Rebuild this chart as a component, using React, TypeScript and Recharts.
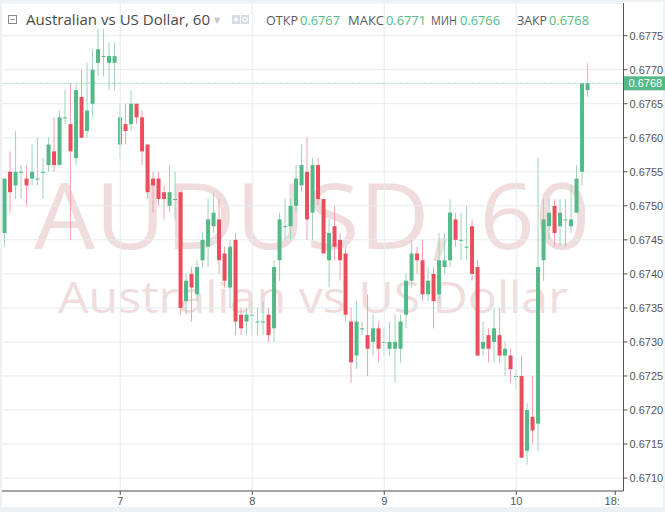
import React from 'react';
import { ComposedChart, Bar, XAxis, YAxis, CartesianGrid, ReferenceLine } from 'recharts';

// Hourly candles, first candle = day 6, 03:00 (hour index counted from day 6 00:00)
const firstHour = 3;
const lastSlot = 115;

const opens = [
  0.6746, 0.6755, 0.6753, 0.6755, 0.6754, 0.6754, 0.6754, 0.6755, 0.6756, 0.6758, 0.6756, 0.6763, 0.6762, 0.6757, 0.6766, 0.6761, 0.6765, 0.6771, 0.6772, 0.6771, 0.6771,
  0.6759, 0.6762, 0.6762, 0.6765, 0.6763, 0.6759, 0.6754, 0.6754, 0.6752, 0.675, 0.6751, 0.6752, 0.6736, 0.674, 0.6737, 0.6742, 0.6744, 0.6747, 0.6748, 0.6743, 0.6738, 0.6745, 0.6734, 0.6733,
  0.6734, 0.6733, 0.6733, 0.6734, 0.6732, 0.6742, 0.6747, 0.6747, 0.675, 0.6753, 0.6755, 0.6749, 0.6756, 0.6751, 0.6742, 0.6747, 0.6745, 0.6743, 0.6733, 0.6728, 0.6732, 0.6731, 0.673, 0.6732,
  0.673, 0.6729, 0.6729, 0.6729, 0.6734, 0.6739, 0.6743, 0.6742, 0.6737, 0.674, 0.6737, 0.6741, 0.6742, 0.6748, 0.6745, 0.6744, 0.6747, 0.6741, 0.6729, 0.6731, 0.673, 0.6731, 0.6728, 0.6728,
  0.6725, 0.6725, 0.6714, 0.6719, 0.6718, 0.6742, 0.6747, 0.675, 0.6747, 0.6748, 0.6747, 0.6749, 0.6755, 0.6767,
];
const highs = [
  0.6754, 0.6758, 0.6761, 0.6756, 0.6756, 0.6759, 0.676, 0.6757, 0.676, 0.6763, 0.6764, 0.6767, 0.6768, 0.6768, 0.677, 0.6771, 0.6773, 0.6776, 0.6776, 0.6774, 0.6774,
  0.6765, 0.6765, 0.6767, 0.6765, 0.6764, 0.6759, 0.6755, 0.6755, 0.6753, 0.6756, 0.6755, 0.6752, 0.674, 0.6741, 0.6742, 0.6746, 0.6751, 0.6752, 0.6751, 0.6744, 0.6745, 0.6746, 0.6735, 0.6735,
  0.6736, 0.6735, 0.6736, 0.6735, 0.6742, 0.6749, 0.6751, 0.6751, 0.6756, 0.6759, 0.676, 0.6757, 0.6757, 0.6751, 0.6748, 0.675, 0.6746, 0.6744, 0.6735, 0.6736, 0.6733, 0.6737, 0.6734, 0.6733,
  0.6732, 0.6733, 0.6734, 0.6734, 0.674, 0.6745, 0.6744, 0.6745, 0.6741, 0.6741, 0.6746, 0.6746, 0.6751, 0.6749, 0.6749, 0.675, 0.6748, 0.6742, 0.6733, 0.6732, 0.6735, 0.6735, 0.673, 0.6729,
  0.6726, 0.6728, 0.6721, 0.6725, 0.6757, 0.6751, 0.6751, 0.6751, 0.6751, 0.6751, 0.6753, 0.6756, 0.6768, 0.6771,
];
const lows = [
  0.6744, 0.6749, 0.6751, 0.6751, 0.675, 0.6753, 0.6753, 0.6751, 0.6755, 0.6755, 0.6756, 0.6762, 0.6745, 0.6756, 0.676, 0.676, 0.6763, 0.6769, 0.6769, 0.6767, 0.6767,
  0.6757, 0.6759, 0.6761, 0.6762, 0.6756, 0.6751, 0.6749, 0.675, 0.6748, 0.6749, 0.6748, 0.6734, 0.6734, 0.6733, 0.6736, 0.6741, 0.6741, 0.6746, 0.674, 0.6738, 0.6735, 0.6731, 0.6731, 0.6731,
  0.6731, 0.6731, 0.6731, 0.673, 0.673, 0.6739, 0.6745, 0.6745, 0.6749, 0.6752, 0.6745, 0.6745, 0.675, 0.6743, 0.6738, 0.6742, 0.6739, 0.6733, 0.6724, 0.6726, 0.6731, 0.6725, 0.6728, 0.6727,
  0.6728, 0.6728, 0.6724, 0.6727, 0.6732, 0.6738, 0.674, 0.6736, 0.6736, 0.6732, 0.6736, 0.674, 0.6741, 0.6744, 0.6742, 0.6742, 0.6739, 0.6728, 0.6728, 0.6727, 0.6727, 0.6727, 0.6725, 0.6724,
  0.6723, 0.6713, 0.6712, 0.6715, 0.6714, 0.6739, 0.6745, 0.6744, 0.6744, 0.6744, 0.6746, 0.6749, 0.6753, 0.6766,
];
const closes = [
  0.6754, 0.6752, 0.6755, 0.6755, 0.6753, 0.6755, 0.6754, 0.6755, 0.6759, 0.6756, 0.6763, 0.6763, 0.6758, 0.6767, 0.676, 0.6764, 0.677, 0.6773, 0.6772, 0.6772, 0.6772,
  0.6763, 0.6761, 0.6765, 0.6763, 0.6758, 0.6752, 0.6753, 0.6751, 0.6751, 0.6752, 0.6751, 0.6735, 0.6739, 0.6738, 0.6741, 0.6745, 0.6748, 0.6749, 0.6742, 0.6739, 0.6744, 0.6733, 0.6732, 0.6734,
  0.6734, 0.6733, 0.6733, 0.6731, 0.6741, 0.6748, 0.6747, 0.675, 0.6754, 0.6756, 0.6748, 0.6756, 0.6751, 0.6743, 0.6746, 0.6744, 0.6742, 0.6734, 0.6727, 0.6733, 0.6732, 0.6729, 0.6732, 0.6729,
  0.673, 0.673, 0.673, 0.6733, 0.6739, 0.6743, 0.6742, 0.6737, 0.6739, 0.6736, 0.6742, 0.6742, 0.6749, 0.6745, 0.6745, 0.6744, 0.674, 0.6728, 0.673, 0.6729, 0.6732, 0.6728, 0.6729, 0.6726,
  0.6725, 0.6713, 0.672, 0.6717, 0.6741, 0.6748, 0.6749, 0.6746, 0.6749, 0.6748, 0.6748, 0.6754, 0.6768, 0.6768,
];

const dayTicks = [24, 48, 72, 96, 114];
const dayTickLabels = ['7', '8', '9', '10', '18:'];
const priceTicks = [0.671, 0.6715, 0.672, 0.6725, 0.673, 0.6735, 0.674, 0.6745, 0.675, 0.6755, 0.676, 0.6765, 0.677, 0.6775];
const priceDomain = [0.67081, 0.67798];
const headerLabels = ['ОТКР', 'МАКС', 'МИН', 'ЗАКР'];
const titleText = 'Australian vs US Dollar, 60';
const watermarkMain = 'AUDUSD, 60';
const watermarkSub = 'Australian vs US Dollar';

const UP = '#53b987';
const DOWN = '#eb4d5c';
const UP_WICK = '#9fd2ba';
const DOWN_WICK = '#f1a0a8';
const GRID = '#e4ebef';
const AXIS = '#555';
const AXIS_FONT = '"Liberation Sans", Arial, sans-serif';

type Row = { t: number; o: number | null; h: number | null; l: number | null; c: number | null };
const data: Row[] = [];
for (let t = firstHour; t <= lastSlot; t++) {
  const i = t - firstHour;
  if (i < opens.length) data.push({ t, o: opens[i], h: highs[i], l: lows[i], c: closes[i] });
  else data.push({ t, o: null, h: null, l: null, c: null });
}
const last = data[opens.length - 1];
const headerValues = [last.o, last.h, last.l, last.c] as number[];
const lastPrice = last.c as number;

const Candle = (props: any) => {
  const { x, y, width, height, payload } = props;
  if (!payload || payload.h == null || height == null) return null;
  const { o, h, l, c } = payload;
  const cx = x + width / 2;
  const k = h === l ? 0 : height / (h - l);
  const yO = y + (h - o) * k;
  const yC = y + (h - c) * k;
  const up = c >= o;
  const top = Math.min(yO, yC);
  const bh = Math.max(Math.abs(yO - yC), 1);
  return (
    <g>
      <line x1={cx} x2={cx} y1={y} y2={y + height} stroke={up ? UP_WICK : DOWN_WICK} strokeWidth={1} />
      <rect x={cx - 2} y={top} width={4} height={bh} fill={up ? UP : DOWN} />
    </g>
  );
};

const DayTick = (props: any) => {
  const { x, y, payload } = props;
  const idx = dayTicks.indexOf(payload.value);
  if (idx < 0) return null;
  const label = dayTickLabels[idx];
  const isLast = idx === dayTicks.length - 1;
  return (
    <g>
      <line x1={x} x2={x} y1={y} y2={y + 4} stroke={AXIS} />
      <text x={isLast ? x - 3 : x} y={y + 14} textAnchor="middle" fill={AXIS} fontSize={11} fontFamily={AXIS_FONT}>
        {label}
      </text>
    </g>
  );
};

const PriceTag = (props: any) => {
  const vb = props.viewBox || {};
  const x0 = (vb.x || 0) + (vb.width || 0);
  const y0 = vb.y || 0;
  return (
    <g>
      <rect x={x0} y={y0 - 7} width={42} height={14} fill={UP} />
      <text x={x0 + 5} y={y0 + 4} fill="#fff" fontSize={11} fontFamily={AXIS_FONT}>
        {lastPrice.toFixed(4)}
      </text>
    </g>
  );
};

const headerX = [266, 348, 431, 517];
const headerLabelW = [32, 36, 26, 30];
const headerValX = [300, 386, 460, 549];

export default function App() {
  return (
    <div style={{ position: 'fixed', left: 0, top: 0, width: 665, height: 512, background: '#eef1f4', overflow: 'hidden' }}>
      <div style={{ position: 'absolute', left: 2, top: 2, width: 661, height: 505, background: '#fff' }} />
      <svg width={665} height={512} style={{ position: 'absolute', left: 0, top: 0 }}>
        <text x={34} y={249} fontSize={91} fill="#f0dcdd" fontFamily='"Open Sans", sans-serif' textLength={556} lengthAdjust="spacingAndGlyphs">
          {watermarkMain}
        </text>
        <text x={58} y={313} fontSize={44} fill="#f0dcdd" fontFamily='"Open Sans", sans-serif' textLength={510} lengthAdjust="spacingAndGlyphs">
          {watermarkSub}
        </text>
      </svg>
      <div style={{ position: 'absolute', left: 0, top: 0 }}>
        <ComposedChart width={665} height={512} data={data} margin={{ top: 3, right: 0, bottom: 0, left: 2 }}>
          <CartesianGrid vertical={false} stroke={GRID} />
          {dayTicks.slice(0, 4).map((t) => (
            <ReferenceLine key={t} x={t} stroke={GRID} ifOverflow="visible" />
          ))}
          <XAxis
            dataKey="t"
            type="category"
            interval={0}
            height={21}
            tickLine={false}
            tickSize={0}
            tickMargin={0}
            axisLine={{ stroke: AXIS }}
            tick={<DayTick />}
          />
          <YAxis
            orientation="right"
            type="number"
            domain={priceDomain}
            allowDataOverflow
            ticks={priceTicks}
            interval={0}
            width={41.5}
            tickSize={4}
            tickMargin={2}
            axisLine={{ stroke: AXIS }}
            tickLine={{ stroke: AXIS }}
            tick={{ fill: AXIS, fontSize: 11, fontFamily: AXIS_FONT }}
            tickFormatter={(v: number) => v.toFixed(4)}
          />
          <Bar dataKey={(d: Row) => (d.h == null ? null : [d.l, d.h])} shape={<Candle />} isAnimationActive={false} />
          <ReferenceLine y={lastPrice} stroke={UP} strokeDasharray="1 2" label={<PriceTag />} />
        </ComposedChart>
      </div>
      <svg width={665} height={40} style={{ position: 'absolute', left: 0, top: 0 }}>
        <rect x={8.5} y={15.5} width={8} height={8} fill="#fff" stroke="#8a8a8a" />
        <line x1={10.5} x2={14.5} y1={19.5} y2={19.5} stroke="#8a8a8a" />
        <text x={26} y={25} fontSize={15} fill="#4a4a4a" fontFamily='"Open Sans", sans-serif' textLength={184} lengthAdjust="spacingAndGlyphs">
          {titleText}
        </text>
        <text x={214} y={23} fontSize={8} fill="#c4c4c4" fontFamily='"DejaVu Sans", sans-serif'>▼</text>
        <rect x={232} y={15} width={8} height={9} fill="#d5dbe0" />
        <circle cx={236} cy={19.5} r={2} fill="#fff" />
        <rect x={241} y={15} width={8} height={9} fill="#d5dbe0" />
        <circle cx={245} cy={19.5} r={2.2} fill="none" stroke="#fff" strokeWidth={1.2} />
        {headerLabels.map((lab, i) => (
          <g key={lab}>
            <text x={headerX[i]} y={25} fontSize={13} fill="#5a5a5a" fontFamily='"Open Sans", sans-serif' textLength={headerLabelW[i]} lengthAdjust="spacingAndGlyphs">
              {lab}
            </text>
            <text x={headerValX[i]} y={25} fontSize={13} fill={UP} fontFamily='"Open Sans", sans-serif' textLength={40} lengthAdjust="spacingAndGlyphs">
              {headerValues[i].toFixed(4)}
            </text>
          </g>
        ))}
      </svg>
    </div>
  );
}
